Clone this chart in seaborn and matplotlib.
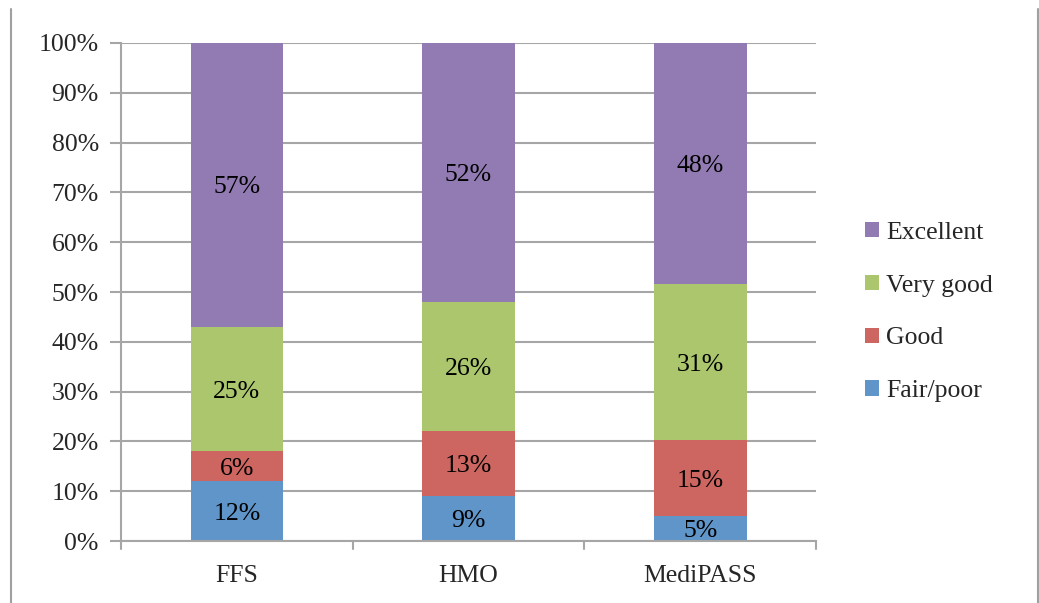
import numpy as np
import pandas as pd
import matplotlib
matplotlib.use("Agg")
import matplotlib.pyplot as plt
from matplotlib.patches import Patch
from matplotlib.lines import Line2D
import seaborn as sns

# Survey results by plan type (percent of respondents)
plans = ["FFS", "HMO", "MediPASS"]
fair_poor = [12, 9, 5]
good = [6, 13, 15]
very_good = [25, 26, 31]
excellent = [57, 52, 48]

ratings = ["Fair/poor", "Good", "Very good", "Excellent"]
colors = {"Fair/poor": "#5F95C8", "Good": "#CD6660",
          "Very good": "#ABC66D", "Excellent": "#927BB3"}
yticks = [0, 10, 20, 30, 40, 50, 60, 70, 80, 90, 100]

sns.set_theme(style="white")
plt.rcParams["font.family"] = ["Liberation Serif", "DejaVu Serif"]

df = pd.DataFrame({"plan": plans, "Fair/poor": fair_poor, "Good": good,
                   "Very good": very_good, "Excellent": excellent})
raw = df[ratings].to_numpy(dtype=float)
# 100% stacked: normalise each plan's shares to its total
shares = raw / raw.sum(axis=1, keepdims=True) * 100
cum = np.cumsum(shares, axis=1)

fig = plt.figure(figsize=(10.39, 6.03), dpi=100)
ax = fig.add_axes([0.1165, 0.1028, 0.6689, 0.8259])

grid_c = "#A6A6A6"
for yv in yticks:
    ax.axhline(yv, color=grid_c, lw=1.5, zorder=0)

# draw cumulative bars from the top layer down so each layer shows its segment
for j in range(len(ratings) - 1, -1, -1):
    sns.barplot(x=df["plan"], y=cum[:, j], color=colors[ratings[j]],
                saturation=1, width=0.4, ax=ax, zorder=2, linewidth=0)

fs = 18.5
for i in range(len(plans)):
    for j in range(len(ratings)):
        bottom = cum[i, j] - shares[i, j]
        ax.text(i, bottom + shares[i, j] / 2 - 0.5, f"{int(raw[i, j])}%",
                ha="center", va="center", fontsize=fs, color="black", zorder=3)

ax.set_xlim(-0.5, 2.5)
ax.set_ylim(0, 100)
ax.set_yticks(yticks)
ax.set_yticklabels([f"{v}%" for v in yticks], fontsize=fs)
ax.set_xticks(range(len(plans)))
ax.set_xticklabels(plans, fontsize=fs)
ax.set_xlabel("")
ax.set_ylabel("")
ax.tick_params(axis="x", length=0, pad=17)
ax.tick_params(axis="y", length=8, width=1.5, color=grid_c, left=True, pad=8)

for side in ["top", "right"]:
    ax.spines[side].set_visible(False)
for side in ["left", "bottom"]:
    ax.spines[side].set_color(grid_c)
    ax.spines[side].set_linewidth(1.5)

# category separator ticks below the x axis
for xb in [-0.5, 0.5, 1.5, 2.5]:
    ax.plot([xb, xb], [0, -1.6], color=grid_c, lw=1.5, clip_on=False, zorder=1)

handles = [Patch(facecolor=colors[r], edgecolor="none", label=r)
           for r in reversed(ratings)]
leg = ax.legend(handles=handles, loc="center left", bbox_to_anchor=(1.055, 0.46),
                frameon=False, fontsize=fs, handlelength=0.55, handleheight=0.55,
                handletextpad=0.3, labelspacing=1.2, borderaxespad=0)

# outer chart frame edges
fig.add_artist(Line2D([11 / 1039, 11 / 1039], [0, 1 - 9 / 603], color="#A0A0A0", lw=1.5))
fig.add_artist(Line2D([1037.5 / 1039, 1037.5 / 1039], [0, 1 - 9 / 603], color="#A0A0A0", lw=1.5))

fig.savefig("out.png", dpi=100)
